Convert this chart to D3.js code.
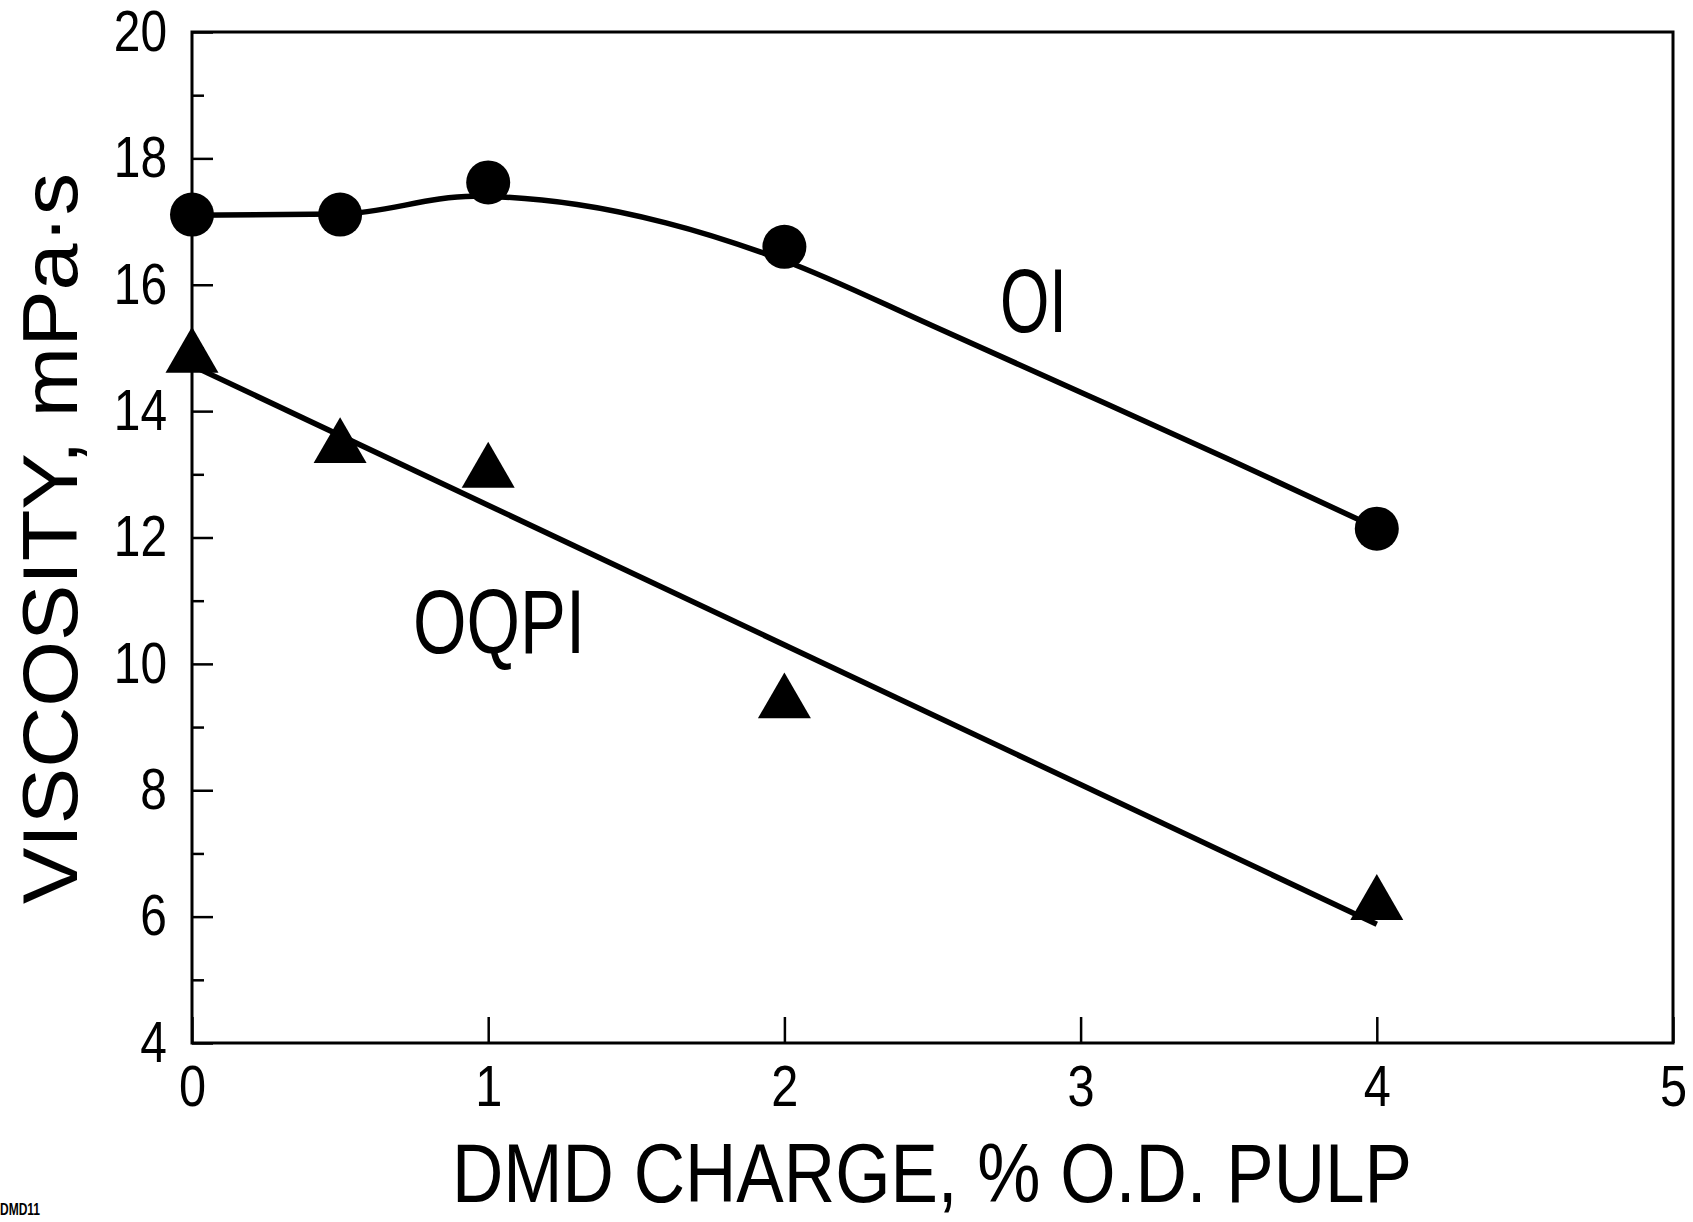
<!DOCTYPE html>
<html>
<head>
<meta charset="utf-8">
<script src="https://cdn.jsdelivr.net/npm/d3@7"></script>
<style>
  body { margin: 0; background: #fff; }
  svg text { font-family: "Liberation Sans Narrow", "Arial Narrow", "Liberation Sans", Arial, sans-serif; fill: #000; }
</style>
</head>
<body>
<div class="canvas"></div>
<script>
// tick values
const xTicks = [0, 1, 2, 3, 4, 5];
const yMajor = [4, 6, 8, 10, 12, 14, 16, 18, 20];
const yMinor = [5, 7, 9, 11, 13, 15, 17, 19];

// measured points, DMD charge (% o.d. pulp) vs viscosity (mPa·s)
const charge = [0, 0.5, 1, 2, 4];
const oiVisc = [17.11, 17.11, 17.62, 16.6, 12.14];
const oqpiVisc = [14.85, 13.42, 13.03, 9.38, 6.19];

// drawn curve through OI
const oiCurveX = [0, 0.5, 0.95, 1.3, 1.6, 2.0, 2.5, 3.0, 3.5, 4.0];
const oiCurveY = [17.1, 17.12, 17.4, 17.27, 16.98, 16.38, 15.35, 14.3, 13.24, 12.15];

// straight fit line through OQPI
const oqpiFitX = [0, 4];
const oqpiFitY = [14.72, 5.88];

const dims = { width: 1693, height: 1222 };
const margin = { left: 192, right: 20, top: 32, bottom: 179 };

const svg = d3.select('.canvas')
    .append('svg')
    .attr('width', dims.width)
    .attr('height', dims.height);

const x = d3.scaleLinear()
    .domain([0, 5])
    .range([margin.left, dims.width - margin.right]);

const y = d3.scaleLinear()
    .domain([4, 20])
    .range([dims.height - margin.bottom, margin.top]);

const bottom = dims.height - margin.bottom;

// squeeze labels to match the condensed lettering of the original
function narrow(sel, k) {
    sel.each(function () {
        const w = this.getComputedTextLength();
        d3.select(this)
            .attr('textLength', w * k)
            .attr('lengthAdjust', 'spacingAndGlyphs');
    });
}

// minor y ticks (inward, no labels)
svg.append('g')
    .attr('transform', `translate(${margin.left}, 0)`)
    .call(d3.axisLeft(y).tickValues(yMinor).tickSize(-12).tickFormat(''))
    .call(g => g.select('.domain').remove())
    .call(g => g.selectAll('line').attr('stroke', '#000').attr('stroke-width', 2.5));

// major y ticks with labels
svg.append('g')
    .attr('transform', `translate(${margin.left}, 0)`)
    .call(d3.axisLeft(y).tickValues(yMajor).tickSize(-21).tickPadding(25).tickFormat(d3.format('d')))
    .call(g => g.select('.domain').remove())
    .call(g => g.selectAll('line').attr('stroke', '#000').attr('stroke-width', 2.5))
    .call(g => g.selectAll('text').attr('font-size', 57).attr('font-family', null).call(narrow, 0.84));

// x ticks
svg.append('g')
    .attr('transform', `translate(0, ${bottom})`)
    .call(d3.axisBottom(x).tickValues(xTicks).tickSize(-26).tickPadding(22).tickFormat(d3.format('d')))
    .call(g => g.select('.domain').remove())
    .call(g => g.selectAll('line').attr('stroke', '#000').attr('stroke-width', 2.5))
    .call(g => g.selectAll('text').attr('font-size', 58).attr('font-family', null).call(narrow, 0.84));

// frame
svg.append('rect')
    .attr('x', x(0))
    .attr('y', y(20))
    .attr('width', x(5) - x(0))
    .attr('height', y(4) - y(20))
    .attr('fill', 'none')
    .attr('stroke', '#000')
    .attr('stroke-width', 3);

// OI curve
const oiLine = d3.line()
    .x(d => x(d[0]))
    .y(d => y(d[1]))
    .curve(d3.curveMonotoneX);

svg.append('path')
    .datum(d3.zip(oiCurveX, oiCurveY))
    .attr('fill', 'none')
    .attr('stroke', '#000')
    .attr('stroke-width', 5.5)
    .attr('d', oiLine);

// OQPI fit line
svg.append('path')
    .datum(d3.zip(oqpiFitX, oqpiFitY))
    .attr('fill', 'none')
    .attr('stroke', '#000')
    .attr('stroke-width', 5.5)
    .attr('d', d3.line().x(d => x(d[0])).y(d => y(d[1])));

// circles
svg.selectAll('.oi')
    .data(d3.zip(charge, oiVisc))
    .enter()
    .append('circle')
    .attr('class', 'oi')
    .attr('cx', d => x(d[0]))
    .attr('cy', d => y(d[1]))
    .attr('r', 22)
    .attr('fill', '#000');

// triangles
const tri = d3.symbol().type(d3.symbolTriangle).size(1216);
svg.selectAll('.oqpi')
    .data(d3.zip(charge, oqpiVisc))
    .enter()
    .append('path')
    .attr('class', 'oqpi')
    .attr('transform', d => `translate(${x(d[0])}, ${y(d[1])})`)
    .attr('d', tri)
    .attr('fill', '#000');

// series labels
svg.append('text')
    .attr('x', 1000)
    .attr('y', 332)
    .attr('font-size', 91)
    .attr('textLength', 67)
    .attr('lengthAdjust', 'spacingAndGlyphs')
    .text('OI');

svg.append('text')
    .attr('x', 413)
    .attr('y', 653)
    .attr('font-size', 91)
    .attr('textLength', 172)
    .attr('lengthAdjust', 'spacingAndGlyphs')
    .text('OQPI');

// axis titles
svg.append('text')
    .attr('x', 452)
    .attr('y', 1202)
    .attr('font-size', 83)
    .attr('textLength', 960)
    .attr('lengthAdjust', 'spacingAndGlyphs')
    .text('DMD CHARGE, % O.D. PULP');

svg.append('text')
    .attr('transform', 'translate(77, 904) rotate(-90)')
    .attr('x', 0)
    .attr('y', 0)
    .attr('font-size', 78)
    .attr('textLength', 731)
    .attr('lengthAdjust', 'spacingAndGlyphs')
    .text('VISCOSITY, mPa·s');

// figure id
svg.append('text')
    .attr('x', 0)
    .attr('y', 1215)
    .attr('font-size', 16)
    .attr('font-weight', 'bold')
    .attr('textLength', 40)
    .attr('lengthAdjust', 'spacingAndGlyphs')
    .text('DMD11');
</script>
</body>
</html>
